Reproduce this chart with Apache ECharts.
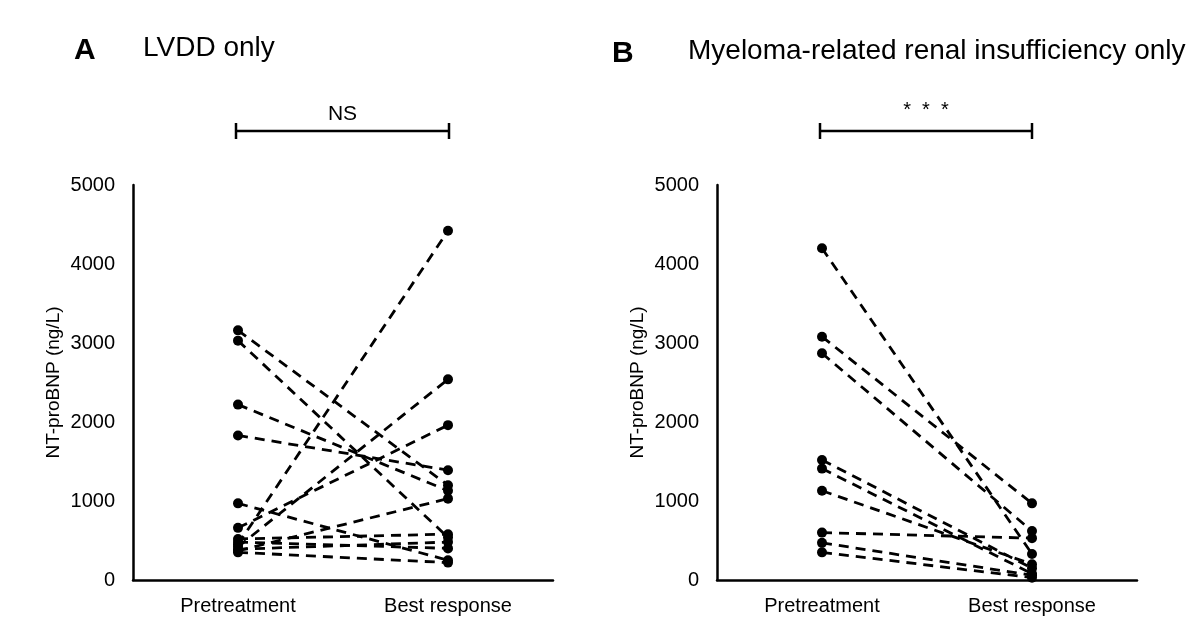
<!DOCTYPE html>
<html>
<head>
<meta charset="utf-8">
<script src="https://cdn.jsdelivr.net/npm/echarts@6/dist/echarts.min.js"></script>
<style>
  html, body { margin: 0; padding: 0; background: #fff; }
  #chart { width: 1200px; height: 619px; }
</style>
</head>
<body>
<div id="chart"></div>
<script>
// Data (NT-proBNP, ng/L), one entry per patient
var categories = ['Pretreatment', 'Best response'];
var yTicks = [0, 1000, 2000, 3000, 4000, 5000];

// Panel A: LVDD only
var preA  = [3160, 3030, 2220, 1830, 970, 660, 520, 480, 450, 420, 390, 370, 350];
var postA = [1200, 540, 1130, 1390, 250, 1960, 580, 400, 4420, 2540, 480, 1030, 220];

// Panel B: myeloma-related renal insufficiency only
var preB  = [4200, 3080, 2870, 1520, 1410, 1130, 600, 470, 350];
var postB = [330, 970, 620, 150, 80, 200, 530, 60, 30];

var FONT = '"Liberation Sans", Arial, sans-serif';

var myChart = echarts.init(document.getElementById('chart'));

function pairSeries(pre, post, idx) {
    return pre.map(function (v, i) {
        return {
            type: 'line',
            xAxisIndex: idx,
            yAxisIndex: idx,
            data: [v, post[i]],
            symbol: 'circle',
            symbolSize: 10,
            itemStyle: { color: '#000' },
            lineStyle: { color: '#000', width: 2.8, type: [10, 7] },
            animation: false,
            z: 3
        };
    });
}

function xAxisFor(idx) {
    return {
        type: 'category',
        gridIndex: idx,
        data: categories,
        axisLine: { lineStyle: { color: '#000', width: 2.5 } },
        axisTick: { show: false },
        axisLabel: { color: '#000', fontSize: 20, fontFamily: FONT, margin: 16 }
    };
}

function yAxisFor(idx) {
    return {
        type: 'value',
        gridIndex: idx,
        min: yTicks[0],
        max: yTicks[yTicks.length - 1],
        interval: yTicks[1] - yTicks[0],
        name: 'NT-proBNP (ng/L)',
        nameLocation: 'middle',
        nameGap: 70,
        nameTextStyle: { color: '#000', fontSize: 19, fontFamily: FONT },
        splitLine: { show: false },
        axisLine: { show: true, lineStyle: { color: '#000', width: 2.5 } },
        axisTick: { show: false },
        axisLabel: {
            color: '#000', fontSize: 20, fontFamily: FONT, margin: 18,
            formatter: function (v) { return String(v); }
        }
    };
}

function bracket(x1, x2, y, label, labelY, size) {
    var style = { stroke: '#000', lineWidth: 2.5 };
    return [
        { type: 'line', shape: { x1: x1, y1: y, x2: x2, y2: y }, style: style },
        { type: 'line', shape: { x1: x1, y1: y - 8, x2: x1, y2: y + 8 }, style: style },
        { type: 'line', shape: { x1: x2, y1: y - 8, x2: x2, y2: y + 8 }, style: style },
        {
            type: 'text', x: (x1 + x2) / 2, y: labelY,
            style: { text: label, fill: '#000', font: size + 'px ' + FONT, align: 'center', verticalAlign: 'middle' }
        }
    ];
}

var option = {
    backgroundColor: '#fff',
    animation: false,
    grid: [
        { left: 133, top: 185, width: 420, height: 395 },
        { left: 717, top: 185, width: 420, height: 395 }
    ],
    xAxis: [xAxisFor(0), xAxisFor(1)],
    yAxis: [yAxisFor(0), yAxisFor(1)],
    series: pairSeries(preA, postA, 0).concat(pairSeries(preB, postB, 1)),
    graphic: [
        { type: 'text', left: 74, top: 36, style: { text: 'A', fill: '#000', font: 'bold 30px ' + FONT } },
        { type: 'text', left: 143, top: 34, style: { text: 'LVDD only', fill: '#000', font: '28px ' + FONT } },
        { type: 'text', left: 612, top: 39, style: { text: 'B', fill: '#000', font: 'bold 30px ' + FONT } },
        { type: 'text', left: 688, top: 37, style: { text: 'Myeloma-related renal insufficiency only', fill: '#000', font: '28px ' + FONT } }
    ].concat(bracket(236, 449, 131, 'NS', 114, 21))
     .concat(bracket(820, 1032, 131, '*  *  *', 110, 20))
};

myChart.setOption(option);
</script>
</body>
</html>
